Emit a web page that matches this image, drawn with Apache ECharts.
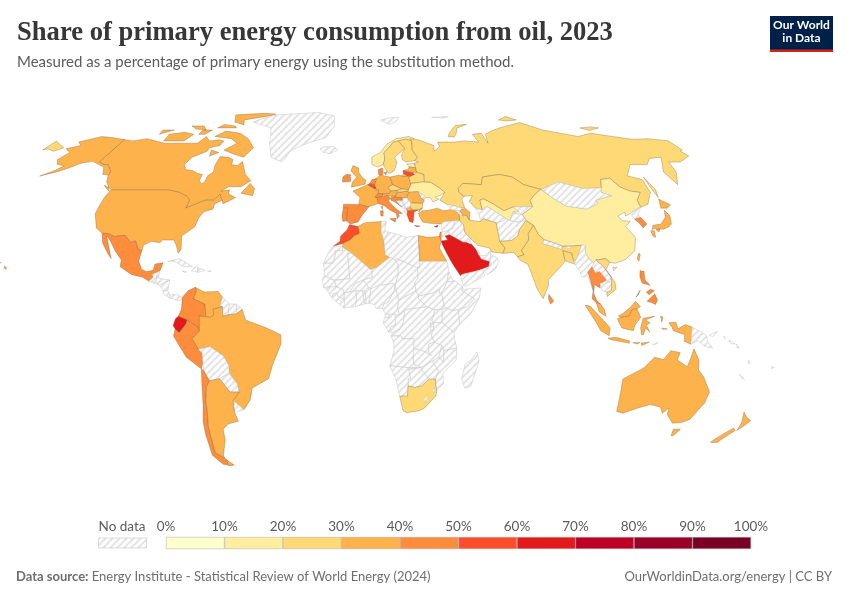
<!DOCTYPE html>
<html>
<head>
<meta charset="utf-8">
<title>Share of primary energy consumption from oil, 2023</title>
<script src="https://cdn.jsdelivr.net/npm/echarts@6/dist/echarts.min.js"></script>
<style>
  html, body { margin: 0; padding: 0; background: #fff; }
  #chart { width: 850px; height: 600px; }
</style>
</head>
<body>
<div id="chart"></div>
<script>
// Countries with a value, share of primary energy from oil (%)
const countryNames = ["United States","Canada","Mexico","Colombia","Venezuela","Ecuador","Peru","Brazil","Chile","Argentina",
  "United Kingdom","Ireland","France","Spain","Portugal","Germany","Netherlands","Belgium","Luxembourg","Switzerland","Austria","Italy",
  "Poland","Czechia","Slovakia","Hungary","Slovenia","Croatia","Romania","Bulgaria","Greece","North Macedonia","Cyprus",
  "Norway","Sweden","Finland","Denmark","Estonia","Latvia","Lithuania","Belarus","Ukraine","Russia","Kazakhstan","Uzbekistan",
  "Turkey","Azerbaijan","Israel","Iran","Saudi Arabia","Egypt","Algeria","Morocco","South Africa",
  "Pakistan","India","Bangladesh","Sri Lanka","China","South Korea","Japan","Taiwan","Thailand","Vietnam","Malaysia","Indonesia","Philippines","Australia","New Zealand"];
const oilShare = [37,32,44,42,36,64,47,37,44,36,
  35,46,33,41,44,35,45,52,62,41,35,42,
  32,26,27,32,38,43,33,27,53,34,62,
  17,25,24,41,16,33,52,24,16,23,22,14,
  32,35,43,24,63,37,35,57,22,
  27,24,23,41,17,43,37,38,44,26,37,34,43,35,36];

const legendTicks = [0,10,20,30,40,50,60,70,80,90,100];
const binColors = ["#ffffcc","#ffeda0","#fed976","#feb24c","#fd8d3c","#fc4e2a","#e31a1c","#bd0026","#9b0027","#7a0026"];

// Simplified outlines: "lon,lat lon,lat ..." rings, several rings split by |
const outlines = {
"Greenland":"-73,78 -66,80.5 -60,82 -32,83.5 -20,81.5 -18,76 -22,70.5 -32,68 -40,65 -43,60 -50,62 -54,68 -58,75",
"Iceland":"-24,65.5 -22,64 -18,63.5 -14,65 -16,66.5 -22,66.5",
"Svalbard":"12,79 18,80 25,80.5 22,78 17,76.8",
"Franz Josef Land":"48,80.5 60,81 56,80",
"Canada":"-141,69.6 -135,69 -128,70 -125,69.5 -115,68 -108,68 -100,68 -96,68 -94,71 -90,69 -85,69.5 -81.5,69 -82,67 -87,66 -87,64.5 -93,62 -94.5,59 -92,57 -88,56.5 -85,55.5 -82,55 -82,52.5 -80,51.3 -79,52 -79,54.5 -77,56 -78,58.5 -78,62.3 -73,62 -70,61 -69.5,59 -66,58.5 -64.5,60.3 -62,57.5 -60,55 -56,52.5 -60,50.2 -66,50.2 -69,48.5 -65,49 -65,47.5 -61,46 -66,43.6 -67,45 -69,47.3 -71,45 -75,45 -79,43.5 -83,42 -82.5,45 -84.5,46.5 -89,48 -95,49 -123,49 -125,50 -128,52 -130,54.8 -130,56 -135,59 -137,59 -141,60|-62,66 -65,62 -72,63.5 -78,65 -73,68 -78,70 -89,71 -85,73.5 -75,72.5 -68,70|-62,82.5 -70,83 -90,82 -85,78 -77,76.5 -80,79 -65,81.5|-105,69 -117,69 -118,72 -110,73 -103,72|-118,74 -124,72 -125,74|-80,75 -92,75 -90,76.7 -82,76|-98,74 -102,76 -110,76 -105,74.5|-96,72 -100,72 -100,74 -94,74|-59,47.7 -53,46.7 -53,49.5 -56,51.5|-123.5,48.4 -128,50.7 -125,50|-85,65 -80,64 -84,62.5",
"United States":"-123,49 -95,49 -89,48 -84.5,46.5 -82.5,45 -83,42 -79,43.5 -75,45 -71,45 -69,47.3 -67,45 -70,43.5 -70,41.7 -74,40.5 -75.5,38 -76,35 -81,31.5 -80,26.5 -81,25 -82.5,28 -84,30 -89,30 -90,29 -94,29.5 -97,28 -97.2,26 -99,26.5 -101,29.7 -103,29 -106.5,31.8 -111,31.3 -114.8,32.5 -117,32.5 -120.5,34.5 -124,40 -124,46|-141,69.6 -141,60 -137,59 -135,59 -130,56 -130,54.8 -133,55 -136,58 -145,60.3 -150,59.5 -153,58 -158,56 -164.5,54.4 -160,56.5 -157.5,58.5 -162,59 -165,61 -163,64 -168,65.6 -162,67 -166,68.5 -157,71 -150,70.5|-155,19 -154.8,19.6 -155.8,20.3 -156,19.5|-158.3,21.3 -157.7,21.6 -158,21.7",
"Mexico":"-117,32.5 -114.8,32.5 -111,31.3 -106.5,31.8 -103,29 -101,29.7 -99,26.5 -97.2,26 -97.8,22 -96,19 -94,18.2 -91,18.6 -90.5,21 -87,21.5 -88,18.3 -89,17.9 -91,17.2 -90.5,16 -92.2,14.5 -95,16 -100,17 -105.5,20 -105.5,22.5 -109,26 -112.5,30 -114.5,31.5 -112,27 -110,23 -112,25 -115.5,29",
"Guatemala":"-92.2,14.5 -90.5,16 -91,17.2 -89,17.9 -89,15.9 -88.2,15.7 -90,13.8",
"Belize":"-89,17.9 -88,18.3 -88.3,16 -89,15.9",
"Honduras":"-89,15.9 -88.2,15.7 -83.2,15 -87.5,13 -89.2,14.3",
"El Salvador":"-90,13.8 -89.2,14.3 -87.7,13.2",
"Nicaragua":"-87.5,13 -83.2,15 -83.7,11 -85.7,11",
"Costa Rica":"-85.7,11 -83.7,11 -82.6,9.5 -83,8.3 -85.5,10",
"Panama":"-83,8.3 -82.6,9.5 -79.5,9.5 -77.3,8.5 -77.9,7.3 -80,7.5",
"Cuba":"-85,22 -80,23 -74,20 -78,20 -82,22",
"Haiti":"-74.4,18.5 -72.7,20 -71.7,19.7 -71.7,18 -72.5,18.2",
"Dominican Republic":"-71.7,19.7 -68.5,18.6 -71.5,17.8 -71.7,18",
"Jamaica":"-78.3,18.3 -76.3,18.1 -77,17.8",
"Puerto Rico":"-67.2,18.4 -65.7,18.4 -66,18",
"Colombia":"-77.3,8.5 -75,11 -72,12.3 -71.3,11 -72.5,8 -70,7 -67.5,6 -67,1.2 -69.8,1.5 -69.8,-4.2 -70.5,-2.5 -75,0 -78.8,1.4 -77.5,4",
"Venezuela":"-72,12.3 -68,10.5 -62,10.7 -60,8.5 -61,5.5 -60,5 -64,4 -63.5,2 -65,1 -67,1.2 -67.5,6 -70,7 -72.5,8 -71.3,11",
"Guyana":"-61,5.5 -60,8.5 -57,6 -57.5,2 -59.8,1.4 -60,5",
"Suriname":"-57,6 -54,6 -54,2.3 -57.5,2",
"French Guiana":"-54,6 -51.5,4 -54,2.3",
"Ecuador":"-78.8,1.4 -75,0 -75.5,-1.5 -78.5,-4.8 -80.2,-3.4 -81,-2 -80,0.5",
"Peru":"-80.2,-3.4 -78.5,-4.8 -75.5,-1.5 -75,0 -70.5,-2.5 -69.8,-4.2 -73,-7 -70.5,-11 -69,-12.5 -69,-16 -70,-18.3 -76,-14 -81,-6",
"Brazil":"-60,5 -64,4 -63.5,2 -65,1 -67,1.2 -69.8,1.5 -69.8,-4.2 -73,-7 -70.5,-11 -65.5,-10 -60,-13.5 -58,-17 -58,-20 -55,-24 -54.5,-27 -57.6,-30.2 -53.5,-33.7 -50,-30 -48.5,-25.5 -41,-22 -39,-17 -35,-9 -35,-5.5 -41,-3 -50,0 -51.5,4 -54,2.3 -57.5,2 -59.8,1.4",
"Bolivia":"-69,-12.5 -70.5,-11 -65.5,-10 -60,-13.5 -58,-17 -58,-20 -62.5,-22 -67,-22.8 -69,-19 -69,-16",
"Paraguay":"-58,-20 -55,-24 -54.5,-27 -58.5,-27 -62.5,-22",
"Uruguay":"-57.6,-30.2 -53.5,-33.7 -58,-34.5 -58,-31",
"Chile":"-70,-18.3 -69,-19 -67,-22.8 -68.5,-25 -69.8,-30 -70.3,-35 -71.5,-40 -72,-46 -72.5,-50 -69,-52 -66.5,-55 -71,-54.5 -74.5,-51 -74,-43 -73.3,-38 -71.5,-32 -70.5,-25",
"Argentina":"-67,-22.8 -62.5,-22 -58.5,-27 -54.5,-27 -57.6,-30.2 -58,-34.5 -57,-38 -62,-39 -65,-41 -65.5,-45 -69,-51 -69,-52 -72.5,-50 -72,-46 -71.5,-40 -70.3,-35 -69.8,-30 -68.5,-25|-68.5,-52.7 -65.5,-54.8 -68.5,-55",
"United Kingdom":"-5.5,50 1.3,51.2 1.7,52.8 -0.3,54 -2,56 -2,57.6 -5,58.6 -6,56.5 -3,54 -5,52|-8,54.3 -5.7,54.6 -6.5,55.2",
"Ireland":"-10,52 -6,52.2 -6,54 -8,55.2 -10,54",
"France":"-1.8,43.4 3,42.5 7.5,43.8 7,46 6,46.2 7.6,47.6 8,49 5.8,49.5 2.5,51 -1.5,49.6 -4.7,48.5 -1.2,46|8.6,42.4 9.5,43 9.3,41.5",
"Spain":"-9,43.5 -1.8,43.4 3,42.5 0,39.5 -2,36.8 -5.5,36 -7.4,37.2 -7,42 -9,42",
"Portugal":"-9,42 -7,42 -7.4,37.2 -9,37 -9.5,39",
"Germany":"6,51 7,53.5 9,54.8 14,54 15,51 12.5,50 13.8,48.6 13,47.6 10,47.5 7.6,47.6 8,49 6.5,49.5 6.2,50",
"Netherlands":"3.5,51.4 6,51 7,53.4 4.8,53",
"Belgium":"2.5,51 3.5,51.4 6,51 6.2,50 5.8,49.5",
"Luxembourg":"5.8,49.5 6.5,49.5 6.2,50.2",
"Switzerland":"6,46.2 7.6,47.6 10,47.5 9.6,46.3 7,46",
"Austria":"9.6,47 10,47.5 13,47.6 13.8,48.6 17,48.8 16.5,46.9 14,46.5",
"Italy":"7,46 7.5,43.8 10.2,43 12.4,41.5 15.7,40 16,38 17,39 16.5,40 18.5,40 16,41.6 13.5,43.6 12.3,45 13.6,45.7 12,47 9.6,46.3|12.5,38 15.5,38.2 15,36.7|8.3,41 9.7,41 9.5,39 8.5,39",
"Denmark":"8.2,55 8.2,57 10.6,57.6 10.5,55 9,54.8|11,55.7 12.5,56 12,54.8",
"Norway":"5,59 5,62 10,64 14,67.5 20,70 28,71 31,70 29,69 26,69.8 21,69 18,68.5 15,66 12,64 12,61 11,59 8,58",
"Sweden":"11,59 12,61 12,64 15,66 18,68.5 21,69 24,65.8 21,64 17.5,62 18.5,60 16.5,56.5 14,55.4 12.7,56",
"Finland":"21,69 26,69.8 29,69 28,65 30,62 28,60.5 23,60 21.5,61 21.5,63 24,65.8",
"Estonia":"23.5,59.2 28,59.5 27.7,57.7 24.5,58",
"Latvia":"21,56.5 24,57.2 24.5,58 27.7,57.7 28,56 26,55.7",
"Lithuania":"21,55.3 21,56.5 26,55.7 26.8,55 24,54 23,54.3",
"Poland":"14,54 18.5,54.8 20,54.4 22.8,54.4 23.5,54 24,51 22.5,49 19,49.4 15,51",
"Belarus":"23.5,54 24,54 26.8,55 28,56 31.5,55 31,52.1 24,51.5 24,51",
"Ukraine":"24,51.5 31,52.1 34,52 38,49.7 40,48 38,47 35,46.2 36.5,45.3 33.5,44.4 32.5,46 30.5,46 29.5,45.3 28.2,45.5 30,46.5 27,48.3 22.5,48 22.5,49 24,51",
"Moldova":"27,48.3 30,46.5 28.2,45.5",
"Romania":"22.5,48 27,48.3 28.2,45.5 29.5,45 28.5,43.8 22.8,44 21,46",
"Bulgaria":"22.5,44 28.5,43.8 28,42 26,41.3 23,41.4 22.5,42.5",
"Greece":"20.5,39.7 20.8,41 23,41.2 26,41.3 24,40.5 23.5,38 23,36.5 21.5,37 21,38.5|23.6,35.5 26.2,35.2 24.5,35",
"Albania":"19.4,42 20.5,42 20.8,41 20.5,39.7 19.5,40.5",
"North Macedonia":"20.5,42 22.5,42.5 23,41.2 20.8,41",
"Serbia":"19,46 21,46 22.8,44 22.5,42.5 20.5,42 19.5,43 19.2,44.9",
"Montenegro":"18.5,42.5 19.3,43 19.5,43 20,42.5 19.4,42",
"Bosnia and Herzegovina":"15.8,45 19,45 19.3,43 18.5,42.5 17.5,43",
"Croatia":"13.6,45 13.6,45.5 16,46.5 19,46 19,45 15.8,45 17.5,43 18.5,42.5 15,44.5",
"Slovenia":"13.6,45.5 14,46.5 16,46.5",
"Hungary":"16,46.8 17,48 22,48.5 22.5,48 21,46 19,46 16.5,46",
"Slovakia":"17,48 17,48.8 19,49.4 22.5,49 22,48.5",
"Czechia":"12.5,50 15,51 19,49.4 17,48.8 13.8,48.6",
"Russia":"28,70 33,69.5 41,67 40,64.5 44,66.5 44,68.5 54,68.5 60,69 68,68.5 67,72 73,72.5 73,68 75,72 80,73.5 87,75 104,77.7 113,74 130,71 140,72.5 160,69.7 170,70 180,69 180,65 178,64.5 179,62.5 170,60 164,60 162,56 156.5,51 155.5,56 163,62 156,61.5 151,59 142,59 135,54.5 141,53 140,48 135,43.5 130.7,42.3 131,45 135,48 130.5,48.5 127,50 125,53.5 120,53 117.5,49.7 108,49.5 98,52 87.8,49.2 87.3,49.2 80,51 76,54 70,55 61,54 59,51 50,51.5 47,49.5 47,48 49,46.5 47.5,45.5 48,42 45,42.5 40,43.4 37,45 39,47 40,48 38,49.7 34,52 31,52.1 31.5,55 28,56 27.7,59.5 30,60 28,60.5 30,62 28,65 29,69|51.5,71 55,70.7 57,72 60,75 68,76.8 60,76.2 54,73|142,46 143.5,49 142.7,54 142,51|20,54.4 22.8,54.4 21,55.3|-180,65 -180,69 -175,67.5 -170,66 -173,64.5 -178,65.5|92,79 100,81 104,79 97,78.5|138,75 146,75.5 150,75 142,73.8",
"Kazakhstan":"47,49.5 50,51.5 59,51 61,54 70,55 76,54 80,51 87.3,49.2 83,47 80,45 80,42.5 71,42.5 66,41 62,43.5 58,45.5 56,45 56,41.3 53,42 50.8,44.5 53,46.8 49,46.5 47,48",
"Uzbekistan":"56,45 56,41.3 58.5,42.6 61,41.2 66,38 67.7,37.2 70,40.5 73,40.5 71,42.5 66,41 62,43.5 58,45.5",
"Turkmenistan":"53,42 56,41.3 58.5,42.6 61,41.2 66,38 64.5,37.2 61,36.5 55.5,38 54,36.9 53.9,40",
"Kyrgyzstan":"71,42.5 80,42.5 74,39.6 70,40 70,40.5 73,40.5",
"Tajikistan":"67.7,37.2 71,36.7 75,37.5 74,39.6 70,40 70,40.5",
"Afghanistan":"61,36.5 64.5,37.2 66,38 67.7,37.2 71,36.7 74.9,37.3 71,34 69.5,31.5 66.3,29.8 61,29.5 61,31.5",
"Turkey":"26,40 28,41 31,41.2 35,42 38,41 41.5,41.5 43.5,41.1 44.8,39.7 44.5,37.2 42.3,37.2 36.5,36.8 36,36 33,36.2 30.5,36.3 27.5,36.8 26.5,38.5|26.2,40.5 28,42 26.5,41.5",
"Cyprus":"32.5,35 34.5,35.6 33.8,34.8",
"Syria":"36,36 36.5,36.8 42.3,37.2 41,34.5 38.8,33.4 36,33 35.7,35",
"Israel":"34.3,31.3 35,33 35.7,33 35.5,31.5 35,29.6",
"Jordan":"35,29.6 35.5,31.5 35.7,33 38.8,33.4 39,32 37,31.5 38,30",
"Iraq":"38.8,33.4 41,34.5 42.3,37.2 44.5,37.2 46,35.7 46,33 48.5,30.3 47.8,30 46.5,29.1 44.7,29.2 39,32",
"Saudi Arabia":"35,29.6 38,30 37,31.5 39,32 44.7,29.2 46.5,29.1 48.3,28.5 50,26.5 51,24.5 52,23 55.7,22 55,20 52,19 48.8,18.2 44,17.3 43,17 42.5,16.5 40,20 38.7,22 37,25 35.5,28",
"Kuwait":"46.5,29.1 47.8,30 48.3,28.5",
"Qatar":"51,24.6 51.5,25 51.2,26.2 50.8,25.6",
"United Arab Emirates":"51.5,24.2 54,24.2 56.3,26 56.3,24.5 55.7,22 52,23",
"Oman":"56.3,24.5 58.7,23.5 59.8,22.5 57.8,19 54,17 52,19 55,20 55.7,22",
"Yemen":"42.5,16.5 43,17 44,17.3 48.8,18.2 52,19 53,16.7 45,12.8 43.5,12.7",
"Iran":"44.8,39.7 48,39.5 49,37.5 54,36.9 55.5,38 61,36.5 61,31.5 61,29.5 63,27 61.7,25 57,25.5 56,27 51,28 48.5,30.3 46,33 46,35.7 44.5,37.2",
"Georgia":"40,43.4 45,42.5 46.5,41.7 45.5,41 43.5,41.1 41.5,41.5",
"Armenia":"43.5,41.1 45.5,41 46.5,39 44.8,39.7",
"Azerbaijan":"45.5,41 46.5,41.7 48.5,41.8 50,40.3 49,37.5 48,39.5 46.5,39",
"Pakistan":"61,29.5 66.3,29.8 69.5,31.5 71,34 74.9,37.3 77.8,35.5 74.5,32.5 74,30 70,26 71,24.5 68,23.7 66.5,25.3 61.7,25 63,27",
"India":"74.5,32.5 77.8,35.5 79,32 81,30.2 80,28.7 88,26.5 88.5,27.8 92,27.8 97,28 94.5,24 93,22 92,23.5 92,25 88.3,26 88.5,22 86.5,20.2 80.2,15 80.2,13 77.5,8 75,12 72.8,19 72,21 69,22.3 68,23.7 71,24.5 70,26 74,30",
"Bangladesh":"88.3,26 92,25 92,23.5 92.5,21 89,22 88.5,23",
"Nepal":"80,28.7 81,30.2 88.2,27.8 88,26.5",
"Bhutan":"88.8,27.3 92,27.8 92,26.8",
"Sri Lanka":"80,9.7 82,7 80.5,6 79.8,8",
"China":"74,39.6 80,42.5 80,45 83,47 87.3,49.2 91,46 96,42.8 105,41.7 111.5,43.7 111,45 120,46.7 116,48 117.5,49.7 120,53 125,53.5 127,50 130.5,48.5 135,48 131,45 130.7,42.3 128,41.5 124.3,40 121.5,39 122,40.5 118,39 119,37.3 122.5,37 119.5,35 122,31 120,26 115,22.7 110.5,21.3 108,21.6 106.5,23 102,22.5 101,21.3 99,23 98,25 98.5,28 97,28 92,27.8 88.5,27.8 81,30.2 79,32 77.8,35.5 75,37.5|109,18.5 110.7,19.8 109,19.7",
"Mongolia":"87.8,49.2 98,52 108,49.5 117.5,49.7 116,48 120,46.7 111,45 111.5,43.7 105,41.7 96,42.8 91,46",
"North Korea":"124.3,40 128,41.5 130.7,42.3 127.5,39.5 128,38.5 125,37.8",
"South Korea":"125,37.8 128.3,38.5 129.5,36 127,34.5 126.5,36",
"Japan":"130.9,34 132,35.5 136,36 139.5,38.5 141,41.3 142,39 140.7,36 139,35 136,34 132.5,34.3|140,42 141.7,45.5 145.5,43.3 143,42|130,33.5 131.7,33.5 131,31 130,31.5|132.5,33.9 134.5,34.2 133.5,33",
"Taiwan":"120.2,23 121.5,25.2 121.9,24.5 120.8,22",
"Myanmar":"92.5,21 93,22 94.5,24 97,28 98.5,28 98,25 99,23 101,21.3 100,20 97.8,18 98.5,15 99.2,11 98.5,13 97.5,16.5 95,16 94.3,18.5",
"Thailand":"97.8,18 100,20 101,17.8 103,18.3 105.5,15 102.5,13.7 102.3,12 101,12.7 100,13.4 99.3,10 100.5,7.2 102,6 100.2,6.5 98.5,8 99.2,11 98.5,15",
"Laos":"100,20 101,21.3 102,22.5 104.5,20.5 107.5,16.3 107.5,14.5 105.5,14 105.5,15 103,18.3 101,17.8",
"Cambodia":"102.5,13.7 105.5,14 107.5,14.5 107,11 105,10.5 103,11",
"Vietnam":"102,22.5 106.5,23 108,21.6 105.8,19 109,14 109,11.5 105,8.8 105,10.5 107,11 107.5,14.5 107.5,16.3 104.5,20.5",
"Malaysia":"100.2,6.5 102,6 103.5,4 104.2,1.4 101.3,3|109.5,1.5 111.5,2.5 115,5 117,7 119,5 117.5,4.2 115.5,4 114,1.5 110.5,1",
"Indonesia":"95.3,5.6 97.5,5.2 104,-1 106,-3 105.7,-5.9 102,-4 100,-1|105.2,-6.8 108.5,-6.5 114.5,-7.8 114.5,-8.7 106.5,-7.4|109,0.5 110.5,1 114,1.5 115.5,4 117.5,4.2 119,1 116.5,-2 116,-4 111,-3 110,-1.5|119.5,-5.5 119,-3 120,0.7 125,1.4 121,0 123,-1 121.5,-2 123,-4.5 121,-3 120.4,-5.5|131,-1 134,-0.8 135,-3.3 138,-1.7 141,-2.6 141,-9.1 138,-8 138,-5.5 133,-4 132.5,-2.8|116,-8.5 119,-8.4 118,-9|119.5,-8.6 123,-8.3 120,-9.6|127.5,1.5 128.5,1 128,-0.8|128,-3 130.5,-3.4 128.5,-3.5",
"Timor-Leste":"124.5,-9.2 127,-8.4 125,-9.5",
"Papua New Guinea":"141,-2.6 145,-4.5 147.5,-6 148,-8 150.5,-10.5 147,-10 144,-7.7 141,-9.1|148.5,-5.7 152,-4.2 150,-6.3",
"Solomon Islands":"155,-6 155.7,-7 154.8,-6.6|157,-7.5 160,-9 158,-8.9|160.5,-9 162,-10.5 161,-10.4",
"Vanuatu":"166.6,-15 167.8,-16 167,-16.4",
"New Caledonia":"164,-20.2 167,-22.3 165.5,-21.7",
"Fiji":"177.3,-17.4 178.6,-17.8 177.6,-18.3",
"Philippines":"120.5,18.5 122.2,18.3 122,15 124,13 120.7,13.8 120,16|122,7 125.5,9.8 126.5,7.5 125.5,5.8 124,6.5|117.3,8.5 119.5,11.3 118.5,9.6|122,10.5 124,11.5 125.5,11 123,9.5",
"Australia":"113.7,-22.5 114,-26 115,-34.3 118,-35 124,-33 129,-31.7 134,-32.7 136,-35 138,-33 138.5,-35.5 143,-38.7 147,-38.5 150,-37.3 153,-31 153.3,-27 149,-21.5 146,-18.7 145.3,-15 142.5,-10.8 141.5,-15 140.8,-17.5 136,-15 136.8,-12.2 132.6,-11.5 130,-14.8 126,-14 122,-18 114,-22|145,-41 148.3,-41 147,-43.5 146,-43.5",
"New Zealand":"172.7,-34.5 175.5,-36.5 178.3,-37.8 176.5,-40 175,-41.5 174.8,-39.5 174.5,-38|172.7,-40.5 174.3,-41.5 171,-45 170.5,-46 167,-46 168,-44.5",
"Morocco":"-5.9,35.8 -2,35.1 -1.3,32.5 -3.7,31.5 -5.5,30 -8.7,28.7 -13,27.7 -10,29.5 -9.8,31.5 -7,33.8",
"Western Sahara":"-13,27.7 -8.7,27.7 -8.7,26 -12,26 -12,23.5 -13,21.3 -17,21.3 -16,23.5 -14.5,26",
"Algeria":"-2,35.1 1,36.5 8.6,37 8.4,33 9.5,30 10,24.5 12,23.5 5.8,19.5 3.3,19 -4.8,25 -8.7,27.3 -8.7,28.7 -5.5,30 -3.7,31.5 -1.3,32.5",
"Tunisia":"8.6,37 11,37 10,34 11.5,33 10,30.3 9.5,30 8.4,33",
"Libya":"11.5,33 15,32.3 20,31 25,31.7 25,20 24,19.5 15,23 14,22.7 12,23.5 10,24.5 9.5,30 10,30.3",
"Egypt":"25,31.7 29,31 32.5,31.2 34.3,31.3 35,29.6 34,27 35.7,24 36.9,22 25,22",
"Mauritania":"-17,21.3 -13,21.3 -12,23.5 -12,26 -8.7,26 -8.7,27.3 -4.8,25 -6.5,25 -5.5,15.5 -12,15 -12.2,14.8 -16.5,16.5",
"Mali":"-4.8,25 3.3,19 4.2,19 4.2,16 0.3,15 0,15 -3,13.7 -5.5,10.5 -8,10.2 -8.5,11.5 -11.4,12.5 -12.2,14.8 -12,15 -5.5,15.5 -6.5,25",
"Niger":"5.8,19.5 12,23.5 14,22.7 15.5,21 15.5,17 14,13 13.5,13.7 7,13 3.6,11.7 2.5,12.3 0.3,15 4.2,16 4.2,19 3.3,19",
"Chad":"14,22.7 15,23 24,19.5 24,15.7 22.5,14 23,11 19,9 15.5,7.5 14.5,11 14,13 15.5,17 15.5,21",
"Sudan":"25,22 36.9,22 37.5,18.7 36.5,14.3 34,10 33,10 33,11.5 30,10 27,9.5 24,9 23,11 22.5,14 24,15.7 24,19.5 25,20",
"South Sudan":"24,9 27,9.5 30,10 33,11.5 33,10 34,10 35,5 34,4 31,3.7 27.5,5 24,8",
"Eritrea":"36.5,14.3 37.5,18 39,15 43,12.5 40,14.6",
"Ethiopia":"36.5,14.3 40,14.6 43,12.5 42.8,11 48,8 45,5 41,3.9 39,3.5 36,4.5 35,5 34,10",
"Djibouti":"43,12.5 43.4,11.5 42.8,11",
"Somalia":"43.4,11.5 51,12 50,8 46,2 41.5,-1.7 41,3.9 45,5 48,8 42.8,11",
"Kenya":"41,3.9 41.5,-1.7 39.2,-4.7 34,-1 34,4 36,4.5 39,3.5",
"Uganda":"31,3.7 34,4 34,-1 30,-1 30,1",
"Tanzania":"34,-1 39.2,-4.7 39.5,-7 40.5,-10.5 35,-11.5 34,-9.5 31,-8.5 29.5,-6 30.5,-2.5 30,-1",
"Rwanda":"29,-1.3 30.5,-1.3 30.5,-2.4 29,-2.7",
"Burundi":"29,-2.7 30.5,-2.4 30,-4.2 29.3,-4.2",
"Democratic Republic of Congo":"12.3,-6 13,-4.6 16,-3.5 17.5,-0.5 18,3.5 19,4 27.5,5 31,3.7 30,1 29,-1.3 29.3,-4.2 29.5,-6 30.7,-8.3 28.5,-9 28.5,-12 29.8,-13.4 27,-12 24,-11 22,-11 22,-7 17,-7 16.5,-6",
"Congo":"11.2,-4.5 13,-4.6 16,-3.5 17.5,-0.5 18,3.5 16,2 14,1.5 14,-2 12,-2.5",
"Gabon":"9.5,1 11.3,1 11.3,2.3 13.5,2.2 14,1.5 14,-2 12,-2.5 11.2,-4.5 8.8,-1",
"Equatorial Guinea":"9.5,1 11.3,1 11.3,2.3 9.8,2.3",
"Cameroon":"8.5,4.5 9.8,2.3 13.5,2.2 16,2 15,4 15.5,7.5 14.5,11 14,13 13.5,11 11,6.7 9,6",
"Central African Republic":"15,4 16,2 18,3.5 19,4 27.5,5 24,8 24,9 23,11 19,9 15.5,7.5",
"Nigeria":"2.7,6.3 5,5.8 6,4.3 8.5,4.5 9,6 11,6.7 13.5,11 14,13 13.5,13.7 7,13 3.6,11.7",
"Benin":"1.6,6.2 2.7,6.3 3.6,11.7 2.5,12.3 1,11",
"Togo":"1,6 1.6,6.2 1,11 0,11 0.5,8",
"Ghana":"-3,5 1,6 0.5,8 0,11 -2.8,11 -2.7,8",
"Burkina Faso":"-5.5,10.5 -2.8,11 0,11 1,11 2.5,12.3 0.3,15 0,15 -3,13.7",
"Cote d'Ivoire":"-8,4.5 -3,5 -2.7,8 -2.8,11 -5.5,10.5 -8,10.2 -7.7,7.5",
"Liberia":"-11.4,7 -8,4.5 -7.7,7.5 -9.5,8.5",
"Sierra Leone":"-13.3,8.5 -11.4,7 -10.3,8.5 -11,10 -12.5,10",
"Guinea":"-15,10.8 -13.3,8.5 -12.5,10 -11,10 -10.3,8.5 -9.5,8.5 -8,8 -8,10.2 -8.5,11.5 -11.4,12.5 -13.7,12.5",
"Guinea-Bissau":"-16.7,12.3 -13.7,12.5 -15,10.8",
"Senegal":"-17.5,14.7 -16.5,16.5 -12.2,14.8 -11.4,12.5 -13.7,12.5 -16.7,12.3",
"Angola":"12.3,-6 16.5,-6 17,-7 22,-7 22,-11 24,-11 22,-13 22,-16.2 23.4,-17.6 21,-18 13.7,-17.3 11.8,-17.3 13.5,-12 13.5,-9",
"Zambia":"22,-11 24,-11 27,-12 29.8,-13.4 28.5,-12 28.5,-9 30.7,-8.3 31,-8.5 34,-9.5 33,-14 30.2,-15.5 28,-16.5 25.3,-17.8 22,-16.2 22,-13",
"Malawi":"34,-9.5 35,-11.5 35,-16 33,-14",
"Mozambique":"40.5,-10.5 40.5,-15 35,-20 35.5,-24 32.8,-26 32,-24 32,-22.2 33,-19 30.2,-15.5 33,-14 35,-16 35,-11.5",
"Zimbabwe":"25.3,-17.8 28,-16.5 30.2,-15.5 33,-19 32,-22.2 29,-22.2 26,-19",
"Botswana":"20,-18.5 25.3,-17.8 26,-19 29,-22.2 26,-24.7 23,-25.3 20,-24.7 20,-22 21,-22",
"Namibia":"11.8,-17.3 13.7,-17.3 21,-18 25.3,-17.8 20,-18.5 21,-22 20,-22 20,-28.5 16.5,-28.6 14.5,-22",
"South Africa":"16.5,-28.6 20,-28.5 20,-24.7 23,-25.3 26,-24.7 29,-22.2 32,-22.2 32,-24 32.8,-26.5 32.5,-28.5 28,-33 25.7,-34 20,-34.8 18.3,-34",
"Lesotho":"27,-30 28.7,-28.7 29.4,-29.7 28,-30.7",
"Eswatini":"31,-25.8 32,-26 32,-27 31,-27",
"Madagascar":"49.3,-12 50.4,-15.5 47.5,-25 45,-25.5 43.3,-22 44.5,-16.5 47,-15"
};

const features = Object.keys(outlines).map((name) => ({
  type: "Feature",
  properties: { name },
  geometry: {
    type: "MultiPolygon",
    coordinates: outlines[name].split("|").map((ring) => {
      const pts = ring.split(" ").map((p) => p.split(",").map(Number));
      pts.push(pts[0]);
      return [pts];
    }),
  },
}));
echarts.registerMap("world", { type: "FeatureCollection", features });

// Robinson projection table, every 5 degrees
const robinsonX = [1,.9986,.9954,.99,.9822,.973,.96,.9427,.9216,.8962,.8679,.835,.7986,.7597,.7186,.6732,.6213,.5722,.5322];
const robinsonY = [0,.062,.124,.186,.248,.31,.372,.434,.4958,.5571,.6176,.6769,.7346,.7903,.8435,.8936,.9394,.9761,1];
const centerX = 362.5, centerY = 320, halfHeight = 215, halfWidth = 421;
function project(pt) {
  const a = Math.min(Math.abs(pt[1]) / 5, 17.999);
  const i = Math.floor(a), t = a - i;
  const px = robinsonX[i] + (robinsonX[i + 1] - robinsonX[i]) * t;
  const py = robinsonY[i] + (robinsonY[i + 1] - robinsonY[i]) * t;
  return [centerX + (pt[0] / 180) * halfWidth * px, centerY - Math.sign(pt[1]) * halfHeight * py];
}
function unproject(pt) {
  const v = Math.abs(centerY - pt[1]) / halfHeight;
  let i = 0;
  while (i < 17 && robinsonY[i + 1] < v) i++;
  const t = (v - robinsonY[i]) / (robinsonY[i + 1] - robinsonY[i]);
  const px = robinsonX[i] + (robinsonX[i + 1] - robinsonX[i]) * t;
  return [((pt[0] - centerX) / (halfWidth * px)) * 180, Math.sign(centerY - pt[1]) * (i + t) * 5];
}

// the map box equals the projected bounds so the projection above is in page pixels
let minX = Infinity, minY = Infinity, maxX = -Infinity, maxY = -Infinity;
features.forEach((f) => f.geometry.coordinates.forEach((poly) => poly[0].forEach((c) => {
  const p = project(c);
  minX = Math.min(minX, p[0]); maxX = Math.max(maxX, p[0]);
  minY = Math.min(minY, p[1]); maxY = Math.max(maxY, p[1]);
})));

// hatch used for countries without data
function hatchTile() {
  const size = 7;
  const c = document.createElement("canvas");
  c.width = c.height = size;
  const g = c.getContext("2d");
  g.fillStyle = "#fdfdfd";
  g.fillRect(0, 0, size, size);
  g.strokeStyle = "#e2e2e2";
  g.lineWidth = 1.8;
  [[-size, size, size, -size], [0, size, size, 0], [0, 2 * size, 2 * size, 0]].forEach((l) => {
    g.beginPath(); g.moveTo(l[0], l[1]); g.lineTo(l[2], l[3]); g.stroke();
  });
  return c;
}
const hatch = { image: hatchTile(), repeat: "repeat" };

const mapData = Object.keys(outlines).map((name) => {
  const i = countryNames.indexOf(name);
  if (i < 0) {
    return { name, itemStyle: { areaColor: hatch, borderColor: "#cdcdcd", borderWidth: 0.6 } };
  }
  const bin = Math.min(Math.floor(oilShare[i] / 10), 9);
  return { name, value: oilShare[i], itemStyle: { areaColor: binColors[bin] } };
});

const legendSeries = binColors.map((color, i) => ({
  type: "bar",
  stack: "legend",
  barWidth: 12,
  silent: true,
  itemStyle: { color, borderColor: "#a8a8a8", borderWidth: 0.5 },
  data: [legendTicks[i + 1] - legendTicks[i]],
}));

const textGray = "#5b5b5b";
const footerGray = "#6e6e6e";
const myChart = echarts.init(document.getElementById("chart"));
myChart.setOption({
  animation: false,
  backgroundColor: "#fff",
  title: [
    {
      text: "Share of primary energy consumption from oil, 2023",
      left: 12, top: 15,
      textStyle: { fontFamily: "Liberation Serif", fontWeight: "bold", fontSize: 26.6, color: "#373737" },
    },
    {
      text: "Measured as a percentage of primary energy using the substitution method.",
      left: 12, top: 50,
      textStyle: { fontFamily: "Lato", fontWeight: "normal", fontSize: 15, color: textGray },
    },
    {
      text: "{b|Data source:} Energy Institute - Statistical Review of World Energy (2024)",
      left: 11, top: 565,
      textStyle: {
        fontFamily: "Lato", fontWeight: "normal", fontSize: 13, color: footerGray,
        rich: { b: { fontFamily: "Lato", fontWeight: "bold", fontSize: 13, color: footerGray } },
      },
    },
    {
      text: "OurWorldinData.org/energy | CC BY",
      right: 13, top: 565,
      textStyle: { fontFamily: "Lato", fontWeight: "normal", fontSize: 13, color: footerGray },
    },
  ],
  grid: { left: 166, right: 99, top: 537, height: 12 },
  xAxis: {
    type: "value", position: "top", min: 0, max: 100, interval: 10,
    splitLine: { show: false },
    axisLine: { show: false },
    axisTick: { show: false },
    axisLabel: { formatter: "{value}%", color: textGray, fontFamily: "Lato", fontSize: 13.5, margin: 3 },
  },
  yAxis: { type: "category", data: ["share"], show: false },
  series: [
    {
      type: "map",
      map: "world",
      projection: { project, unproject },
      left: minX, top: minY, width: maxX - minX, height: maxY - minY,
      roam: false,
      silent: true,
      label: { show: false },
      itemStyle: { borderColor: "rgba(110,90,60,0.55)", borderWidth: 0.6 },
      data: mapData,
    },
    ...legendSeries,
  ],
  graphic: [
    { type: "rect", shape: { x: 770, y: 16, width: 63, height: 36 }, style: { fill: "#002147" } },
    { type: "rect", shape: { x: 770, y: 49.5, width: 63, height: 2.5 }, style: { fill: "#ce261e" } },
    { type: "text", x: 801.5, y: 25, style: { text: "Our World", fill: "#fff", font: "bold 12px Lato", align: "center", verticalAlign: "middle" } },
    { type: "text", x: 801.5, y: 38, style: { text: "in Data", fill: "#fff", font: "bold 12px Lato", align: "center", verticalAlign: "middle" } },
    { type: "text", x: 122, y: 527, style: { text: "No data", fill: textGray, font: "13.5px Lato", align: "center", verticalAlign: "middle" } },
    { type: "rect", shape: { x: 98.5, y: 538, width: 48, height: 10 }, style: { fill: hatch, stroke: "#c6c6c6", lineWidth: 0.6 } },
  ],
});
</script>
</body>
</html>
